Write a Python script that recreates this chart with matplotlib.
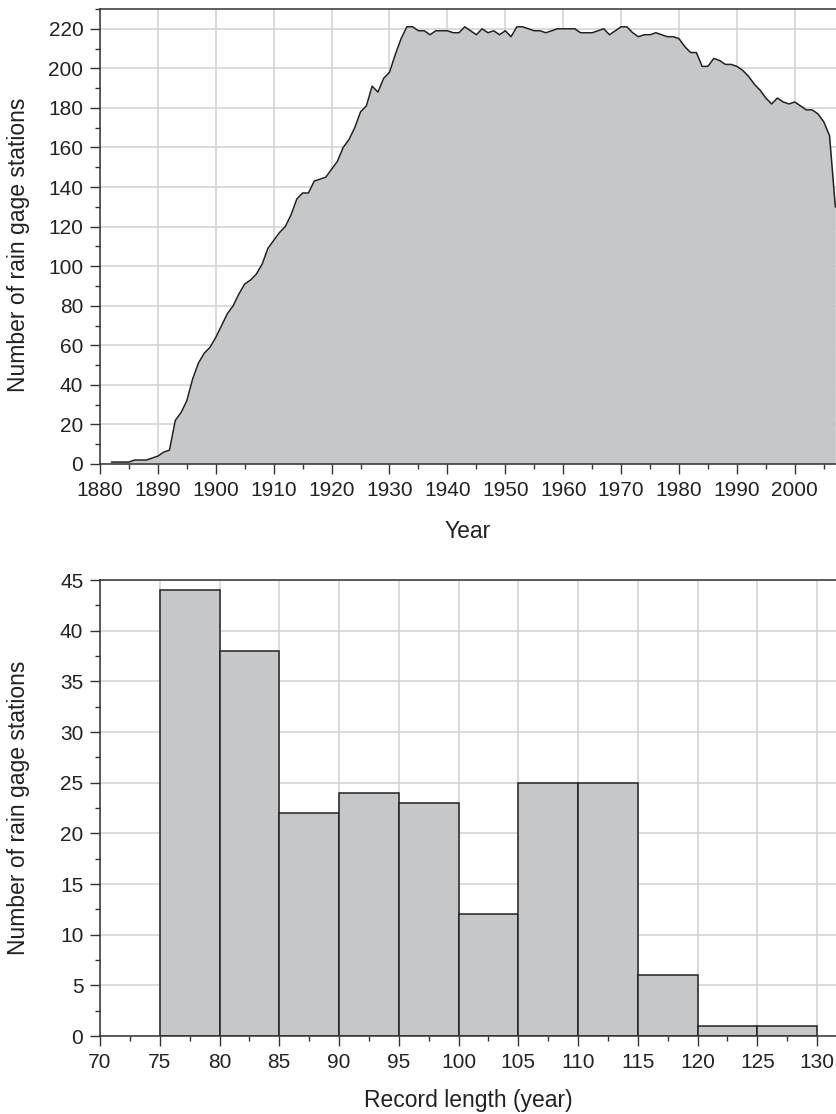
import matplotlib
matplotlib.use("Agg")
import matplotlib.pyplot as plt
from matplotlib.ticker import MultipleLocator

plt.rcParams['font.family'] = ['Liberation Sans', 'DejaVu Sans']

# ---- Data: top panel (number of stations per year) ----
years = list(range(1882, 2008))
stations = [
    1, 1, 1, 1, 2, 2, 2, 3, 4, 6,            # 1882-1891
    7, 22, 26, 32, 43, 51, 56, 59, 64, 70,   # 1892-1901
    76, 80, 86, 91, 93, 96, 101, 109, 113, 117,  # 1902-1911
    120, 126, 134, 137, 137, 143, 144, 145, 149, 153,  # 1912-1921
    160, 164, 170, 178, 181, 191, 188, 195, 198, 207,  # 1922-1931
    215, 221, 221, 219, 219, 217, 219, 219, 219, 218,  # 1932-1941
    218, 221, 219, 217, 220, 218, 219, 217, 219, 216,  # 1942-1951
    221, 221, 220, 219, 219, 218, 219, 220, 220, 220,  # 1952-1961
    220, 218, 218, 218, 219, 220, 217, 219, 221, 221,  # 1962-1971
    218, 216, 217, 217, 218, 217, 216, 216, 215, 211,  # 1972-1981
    208, 208, 201, 201, 205, 204, 202, 202, 201, 199,  # 1982-1991
    196, 192, 189, 185, 182, 185, 183, 182, 183, 181,  # 1992-2001
    179, 179, 177, 173, 166, 130,                      # 2002-2007
]

# ---- Data: bottom panel (histogram of record length) ----
bin_left = [75, 80, 85, 90, 95, 100, 105, 110, 115, 120, 125]
bin_counts = [44, 38, 22, 24, 23, 12, 25, 25, 6, 1, 1]
bin_width = 5

fill_color = '#c6c7c9'
grid_color = '#d4d4d4'
spine_color = '#333333'

fig = plt.figure(figsize=(8.36, 11.14), dpi=100)
W, H = 836, 1114
ax1 = fig.add_axes([100 / W, 1 - 464 / H, 736 / W, 455 / H])
ax2 = fig.add_axes([100 / W, 1 - 1036 / H, 736 / W, 456 / H])


def style(ax):
    ax.set_axisbelow(True)
    ax.grid(True, which='major', color=grid_color, linewidth=1.2)
    for s in ['left', 'bottom', 'top']:
        ax.spines[s].set_color(spine_color)
        ax.spines[s].set_linewidth(1.1)
    ax.spines['right'].set_visible(False)
    ax.tick_params(which='major', direction='out', length=7, width=1.0,
                   color=spine_color, labelsize=15, pad=5, labelcolor='#222222')
    ax.tick_params(which='minor', direction='out', length=3.8, width=1.0,
                   color=spine_color)
    ax.tick_params(axis='y', which='both', right=False)
    ax.tick_params(axis='x', which='both', top=False)


# Top panel
ax1.fill_between(years, stations, 0, color=fill_color, linewidth=0)
ax1.plot(years, stations, color='#222222', linewidth=1.1)
ax1.set_xlim(1880, 1880 + 736 / 5.79)
ax1.set_ylim(0, 230)
ax1.xaxis.set_major_locator(MultipleLocator(10))
ax1.xaxis.set_minor_locator(MultipleLocator(5))
ax1.yaxis.set_major_locator(MultipleLocator(20))
ax1.yaxis.set_minor_locator(MultipleLocator(10))
ax1.set_xticks(list(range(1880, 2001, 10)))
style(ax1)
ax1.set_xlabel('Year', fontsize=16.5, color='#222222')
ax1.set_ylabel('Number of rain gage stations', fontsize=16.5, color='#222222')
ax1.xaxis.label.set_va('center')
ax1.yaxis.label.set_va('center')
ax1.xaxis.set_label_coords(0.5, -(532 - 464) / 455)
ax1.yaxis.set_label_coords(-(100 - 19) / 736, 1 - (245 - 9) / 455)

# Bottom panel
ax2.bar(bin_left, bin_counts, width=bin_width, align='edge',
        color=fill_color, edgecolor='#222222', linewidth=1.1)
ax2.set_xlim(70, 70 + 736 / 11.95)
ax2.set_ylim(0, 45)
ax2.set_xticks(list(range(70, 131, 5)))
ax2.xaxis.set_minor_locator(MultipleLocator(2.5))
ax2.yaxis.set_major_locator(MultipleLocator(5))
ax2.yaxis.set_minor_locator(MultipleLocator(2.5))
style(ax2)
ax2.set_xlabel('Record length (year)', fontsize=16.5, color='#222222')
ax2.set_ylabel('Number of rain gage stations', fontsize=16.5, color='#222222')
ax2.xaxis.label.set_va('center')
ax2.yaxis.label.set_va('center')
ax2.xaxis.set_label_coords(0.5, -(1100 - 1036) / 456)
ax2.yaxis.set_label_coords(-(100 - 19) / 736, 0.5)

fig.savefig('out.png', dpi=100)
